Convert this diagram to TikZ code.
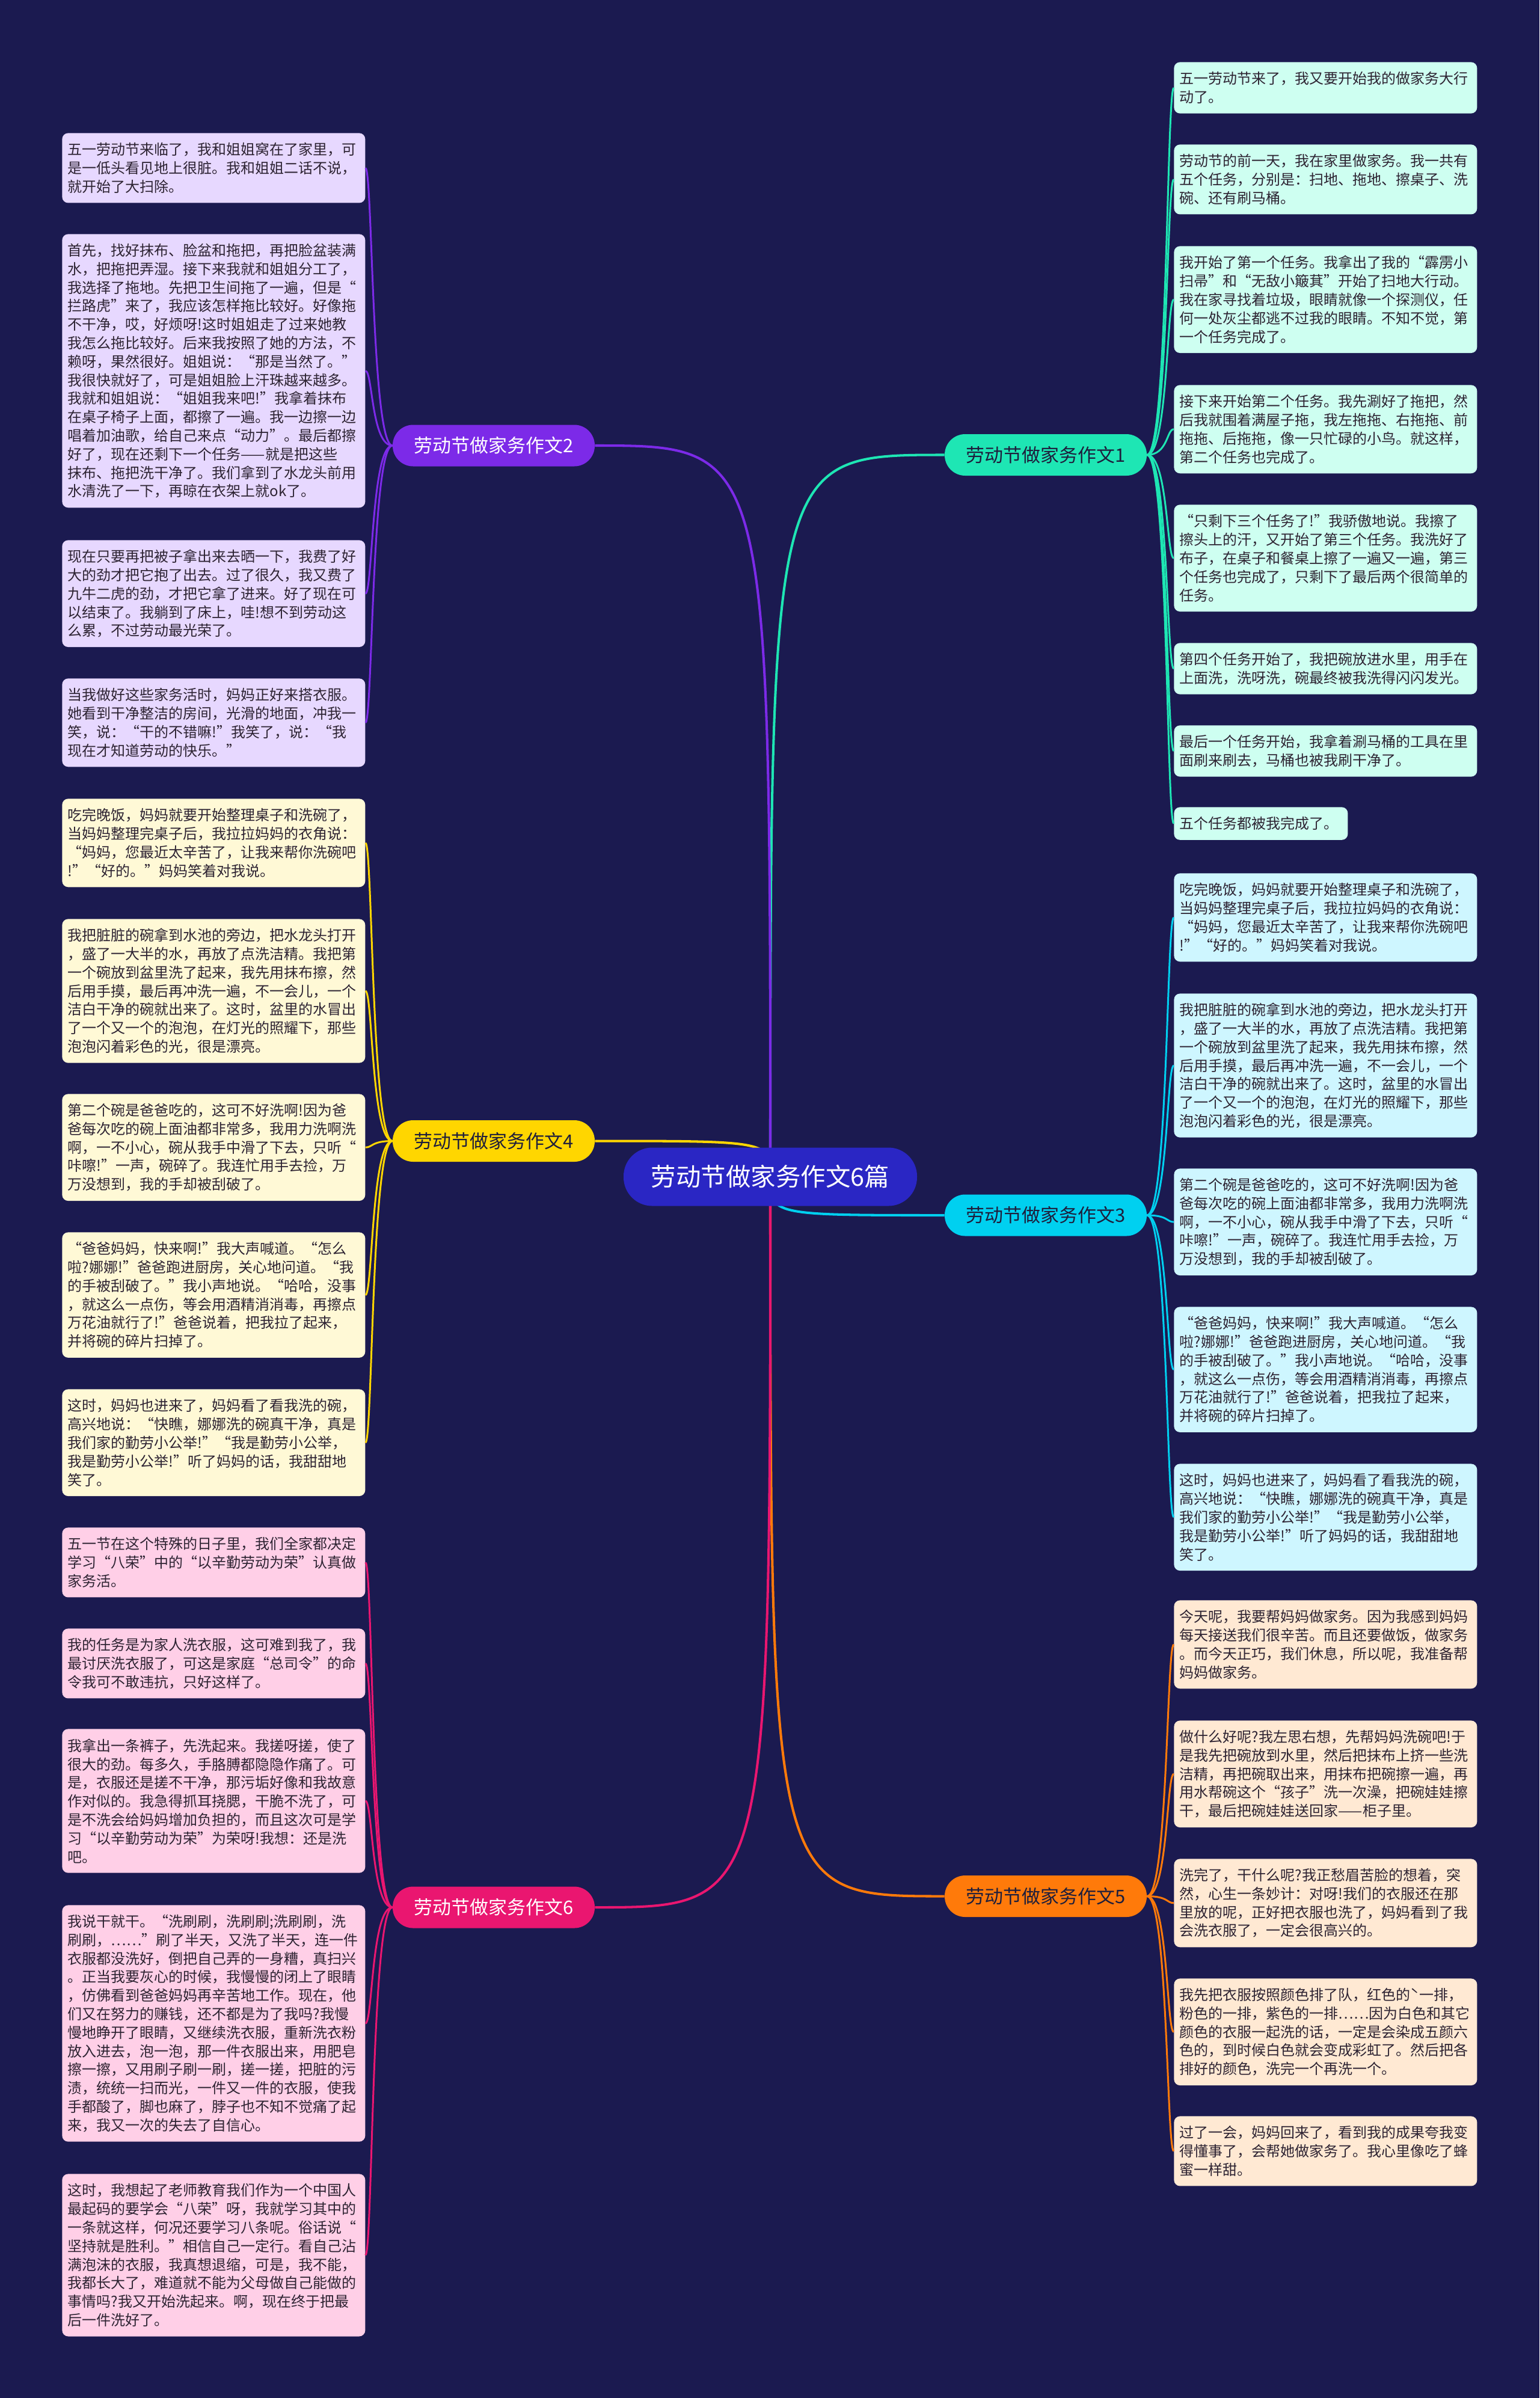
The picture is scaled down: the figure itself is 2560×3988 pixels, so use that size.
\documentclass[tikz,border=0pt]{standalone}
\usepackage{fontspec}
\setmainfont{Noto Sans CJK SC}
\usetikzlibrary{positioning}
\definecolor{NightBg}{RGB}{27,26,80}
\definecolor{RootBlue}{RGB}{42,38,196}
\definecolor{NoteInk}{RGB}{45,35,50}
\definecolor{TopicInk}{RGB}{30,30,60}
\definecolor{MintA}{RGB}{30,230,180}
\definecolor{MintB}{RGB}{206,255,241}
\definecolor{PurpA}{RGB}{124,42,232}
\definecolor{PurpB}{RGB}{231,216,255}
\definecolor{CyanA}{RGB}{0,208,240}
\definecolor{CyanB}{RGB}{206,246,255}
\definecolor{GoldA}{RGB}{255,214,0}
\definecolor{GoldB}{RGB}{255,249,214}
\definecolor{OranA}{RGB}{255,122,10}
\definecolor{OranB}{RGB}{255,233,211}
\definecolor{RoseA}{RGB}{234,22,112}
\definecolor{RoseB}{RGB}{255,207,231}
\newcommand\notefont{\fontsize{13.66pt}{17.53pt}\selectfont}
\newcommand\dishA{吃完晚饭，妈妈就要开始整理桌子和洗碗了，\\当妈妈整理完桌子后，我拉拉妈妈的衣角说：\\“妈妈，您最近太辛苦了，让我来帮你洗碗吧\\!”“好的。”妈妈笑着对我说。}
\newcommand\dishB{我把脏脏的碗拿到水池的旁边，把水龙头打开\\，盛了一大半的水，再放了点洗洁精。我把第\\一个碗放到盆里洗了起来，我先用抹布擦，然\\后用手摸，最后再冲洗一遍，不一会儿，一个\\洁白干净的碗就出来了。这时，盆里的水冒出\\了一个又一个的泡泡，在灯光的照耀下，那些\\泡泡闪着彩色的光，很是漂亮。}
\newcommand\dishC{第二个碗是爸爸吃的，这可不好洗啊!因为爸\\爸每次吃的碗上面油都非常多，我用力洗啊洗\\啊，一不小心，碗从我手中滑了下去，只听“\\咔嚓!”一声，碗碎了。我连忙用手去捡，万\\万没想到，我的手却被刮破了。}
\newcommand\dishD{“爸爸妈妈，快来啊!”我大声喊道。“怎么\\啦?娜娜!”爸爸跑进厨房，关心地问道。“我\\的手被刮破了。”我小声地说。“哈哈，没事\\，就这么一点伤，等会用酒精消消毒，再擦点\\万花油就行了!”爸爸说着，把我拉了起来，\\并将碗的碎片扫掉了。}
\newcommand\dishE{这时，妈妈也进来了，妈妈看了看我洗的碗，\\高兴地说：“快瞧，娜娜洗的碗真干净，真是\\我们家的勤劳小公举!”“我是勤劳小公举，\\我是勤劳小公举!”听了妈妈的话，我甜甜地\\笑了。}
\tikzset{
  root/.style={fill=RootBlue,text=white,rounded corners=0.95cm,inner sep=0pt,
    minimum width=9.76cm,minimum height=1.94cm,font=\fontsize{23.6pt}{28pt}\selectfont},
  topic/.style={fill=#1,text=TopicInk,rounded corners=0.68cm,inner sep=0pt,
    minimum width=6.72cm,minimum height=1.38cm,font=\fontsize{17.6pt}{20pt}\selectfont},
  note/.style={fill=#1,text=NoteInk,rounded corners=0.2cm,text width=9.7cm,
    inner xsep=0.19cm,inner ysep=0pt,align=left,anchor=north west,font=\notefont},
  nrows/.style={minimum height={(54.5+(#1-1)*30.8)*0.2mm}},
  link/.style={draw=#1,line width=1.7pt},
  trunk/.style={draw=#1,line width=2.3pt},
}
\begin{document}
\begin{tikzpicture}[x=0.2mm,y=-0.2mm]
\useasboundingbox (0,0) rectangle (2560,3988);
\fill[NightBg] (0,0) rectangle (2560,3988);
\coordinate (hub) at (1281,1957);

% main topics
\node[topic=MintA] (e1) at (1739,756.5) {劳动节做家务作文1};
\node[topic=PurpA,text=white] (e2) at (821,741) {劳动节做家务作文2};
\node[topic=CyanA] (e3) at (1739,2021) {劳动节做家务作文3};
\node[topic=GoldA] (e4) at (821,1897.5) {劳动节做家务作文4};
\node[topic=OranA] (e5) at (1739,3153.5) {劳动节做家务作文5};
\node[topic=RoseA,text=white] (e6) at (821,3172) {劳动节做家务作文6};

% essay 1
\node[note=MintB,nrows=2] (e1x1) at (1952,103) {五一劳动节来了，我又要开始我的做家务大行\\动了。};
\node[note=MintB,nrows=3] (e1x2) at (1952,240) {劳动节的前一天，我在家里做家务。我一共有\\五个任务，分别是：扫地、拖地、擦桌子、洗\\碗、还有刷马桶。};
\node[note=MintB,nrows=5] (e1x3) at (1952,409) {我开始了第一个任务。我拿出了我的“霹雳小\\扫帚”和“无敌小簸萁”开始了扫地大行动。\\我在家寻找着垃圾，眼睛就像一个探测仪，任\\何一处灰尘都逃不过我的眼睛。不知不觉，第\\一个任务完成了。};
\node[note=MintB,nrows=4] (e1x4) at (1952,640) {接下来开始第二个任务。我先涮好了拖把，然\\后我就围着满屋子拖，我左拖拖、右拖拖、前\\拖拖、后拖拖，像一只忙碌的小鸟。就这样，\\第二个任务也完成了。};
\node[note=MintB,nrows=5] (e1x5) at (1952,839) {“只剩下三个任务了!”我骄傲地说。我擦了\\擦头上的汗，又开始了第三个任务。我洗好了\\布子，在桌子和餐桌上擦了一遍又一遍，第三\\个任务也完成了，只剩下了最后两个很简单的\\任务。};
\node[note=MintB,nrows=2] (e1x6) at (1952,1069) {第四个任务开始了，我把碗放进水里，用手在\\上面洗，洗呀洗，碗最终被我洗得闪闪发光。};
\node[note=MintB,nrows=2] (e1x7) at (1952,1206) {最后一个任务开始，我拿着涮马桶的工具在里\\面刷来刷去，马桶也被我刷干净了。};
\node[note=MintB,nrows=1,text width=5.4cm] (e1x8) at (1952,1342) {五个任务都被我完成了。};

% essay 2
\node[note=PurpB,nrows=3] (e2x1) at (103,221) {五一劳动节来临了，我和姐姐窝在了家里，可\\是一低头看见地上很脏。我和姐姐二话不说，\\就开始了大扫除。};
\node[note=PurpB,nrows=14] (e2x2) at (103,389) {首先，找好抹布、脸盆和拖把，再把脸盆装满\\水，把拖把弄湿。接下来我就和姐姐分工了，\\我选择了拖地。先把卫生间拖了一遍，但是“\\拦路虎”来了，我应该怎样拖比较好。好像拖\\不干净，哎，好烦呀!这时姐姐走了过来她教\\我怎么拖比较好。后来我按照了她的方法，不\\赖呀，果然很好。姐姐说：“那是当然了。”\\我很快就好了，可是姐姐脸上汗珠越来越多。\\我就和姐姐说：“姐姐我来吧!”我拿着抹布\\在桌子椅子上面，都擦了一遍。我一边擦一边\\唱着加油歌，给自己来点“动力”。最后都擦\\好了，现在还剩下一个任务——就是把这些\\抹布、拖把洗干净了。我们拿到了水龙头前用\\水清洗了一下，再晾在衣架上就ok了。};
\node[note=PurpB,nrows=5] (e2x3) at (103,898) {现在只要再把被子拿出来去晒一下，我费了好\\大的劲才把它抱了出去。过了很久，我又费了\\九牛二虎的劲，才把它拿了进来。好了现在可\\以结束了。我躺到了床上，哇!想不到劳动这\\么累，不过劳动最光荣了。};
\node[note=PurpB,nrows=4] (e2x4) at (103,1128) {当我做好这些家务活时，妈妈正好来搭衣服。\\她看到干净整洁的房间，光滑的地面，冲我一\\笑，说：“干的不错嘛!”我笑了，说：“我\\现在才知道劳动的快乐。”};

% essay 3
\node[note=CyanB,nrows=4] (e3x1) at (1952,1452) {\dishA};
\node[note=CyanB,nrows=7] (e3x2) at (1952,1652) {\dishB};
\node[note=CyanB,nrows=5] (e3x3) at (1952,1943) {\dishC};
\node[note=CyanB,nrows=6] (e3x4) at (1952,2173) {\dishD};
\node[note=CyanB,nrows=5] (e3x5) at (1952,2434) {\dishE};

% essay 4
\node[note=GoldB,nrows=4] (e4x1) at (103,1328) {\dishA};
\node[note=GoldB,nrows=7] (e4x2) at (103,1528) {\dishB};
\node[note=GoldB,nrows=5] (e4x3) at (103,1819) {\dishC};
\node[note=GoldB,nrows=6] (e4x4) at (103,2049) {\dishD};
\node[note=GoldB,nrows=5] (e4x5) at (103,2310) {\dishE};

% essay 5
\node[note=OranB,nrows=4] (e5x1) at (1952,2661) {今天呢，我要帮妈妈做家务。因为我感到妈妈\\每天接送我们很辛苦。而且还要做饭，做家务\\。而今天正巧，我们休息，所以呢，我准备帮\\妈妈做家务。};
\node[note=OranB,nrows=5] (e5x2) at (1952,2861) {做什么好呢?我左思右想，先帮妈妈洗碗吧!于\\是我先把碗放到水里，然后把抹布上挤一些洗\\洁精，再把碗取出来，用抹布把碗擦一遍，再\\用水帮碗这个“孩子”洗一次澡，把碗娃娃擦\\干，最后把碗娃娃送回家——柜子里。};
\node[note=OranB,nrows=4] (e5x3) at (1952,3091) {洗完了，干什么呢?我正愁眉苦脸的想着，突\\然，心生一条妙计：对呀!我们的衣服还在那\\里放的呢，正好把衣服也洗了，妈妈看到了我\\会洗衣服了，一定会很高兴的。};
\node[note=OranB,nrows=5] (e5x4) at (1952,3290) {我先把衣服按照颜色排了队，红色的ˋ一排，\\粉色的一排，紫色的一排……因为白色和其它\\颜色的衣服一起洗的话，一定是会染成五颜六\\色的，到时候白色就会变成彩虹了。然后把各\\排好的颜色，洗完一个再洗一个。};
\node[note=OranB,nrows=3] (e5x5) at (1952,3519) {过了一会，妈妈回来了，看到我的成果夸我变\\得懂事了，会帮她做家务了。我心里像吃了蜂\\蜜一样甜。};

% essay 6
\node[note=RoseB,nrows=3] (e6x1) at (103,2540) {五一节在这个特殊的日子里，我们全家都决定\\学习“八荣”中的“以辛勤劳动为荣”认真做\\家务活。};
\node[note=RoseB,nrows=3] (e6x2) at (103,2708) {我的任务是为家人洗衣服，这可难到我了，我\\最讨厌洗衣服了，可这是家庭“总司令”的命\\令我可不敢违抗，只好这样了。};
\node[note=RoseB,nrows=7] (e6x3) at (103,2875) {我拿出一条裤子，先洗起来。我搓呀搓，使了\\很大的劲。每多久，手胳膊都隐隐作痛了。可\\是，衣服还是搓不干净，那污垢好像和我故意\\作对似的。我急得抓耳挠腮，干脆不洗了，可\\是不洗会给妈妈增加负担的，而且这次可是学\\习“以辛勤劳动为荣”为荣呀!我想：还是洗\\吧。};
\node[note=RoseB,nrows=12] (e6x4) at (103,3168) {我说干就干。“洗刷刷，洗刷刷;洗刷刷，洗\\刷刷，……”刷了半天，又洗了半天，连一件\\衣服都没洗好，倒把自己弄的一身糟，真扫兴\\。正当我要灰心的时候，我慢慢的闭上了眼睛\\，仿佛看到爸爸妈妈再辛苦地工作。现在，他\\们又在努力的赚钱，还不都是为了我吗?我慢\\慢地睁开了眼睛，又继续洗衣服，重新洗衣粉\\放入进去，泡一泡，那一件衣服出来，用肥皂\\擦一擦，又用刷子刷一刷，搓一搓，把脏的污\\渍，统统一扫而光，一件又一件的衣服，使我\\手都酸了，脚也麻了，脖子也不知不觉痛了起\\来，我又一次的失去了自信心。};
\node[note=RoseB,nrows=8] (e6x5) at (103,3615) {这时，我想起了老师教育我们作为一个中国人\\最起码的要学会“八荣”呀，我就学习其中的\\一条就这样，何况还要学习八条呢。俗话说“\\坚持就是胜利。”相信自己一定行。看自己沾\\满泡沫的衣服，我真想退缩，可是，我不能，\\我都长大了，难道就不能为父母做自己能做的\\事情吗?我又开始洗起来。啊，现在终于把最\\后一件洗好了。};

% topic to note links
\foreach \k in {1,...,8}
  \draw[link=MintA] (e1.east) .. controls +(35,0) and +(-12,0) .. (e1x\k.west);
\foreach \k in {1,...,4}
  \draw[link=PurpA] (e2.west) .. controls +(-35,0) and +(12,0) .. (e2x\k.east);
\foreach \k in {1,...,5}{
  \draw[link=CyanA] (e3.east) .. controls +(35,0) and +(-12,0) .. (e3x\k.west);
  \draw[link=GoldA] (e4.west) .. controls +(-35,0) and +(12,0) .. (e4x\k.east);
  \draw[link=OranA] (e5.east) .. controls +(35,0) and +(-12,0) .. (e5x\k.west);
  \draw[link=RoseA] (e6.west) .. controls +(-35,0) and +(12,0) .. (e6x\k.east);
}

% hub to topics
\foreach \t/\c/\s in {e1/MintA/west,e3/CyanA/west,e5/OranA/west,e2/PurpA/east,e4/GoldA/east,e6/RoseA/east}
  \draw[trunk=\c] (hub) .. controls (hub |- \t.\s) .. (\t.\s);

\node[root] (main) at (hub) {劳动节做家务作文6篇};
\end{tikzpicture}
\end{document}
